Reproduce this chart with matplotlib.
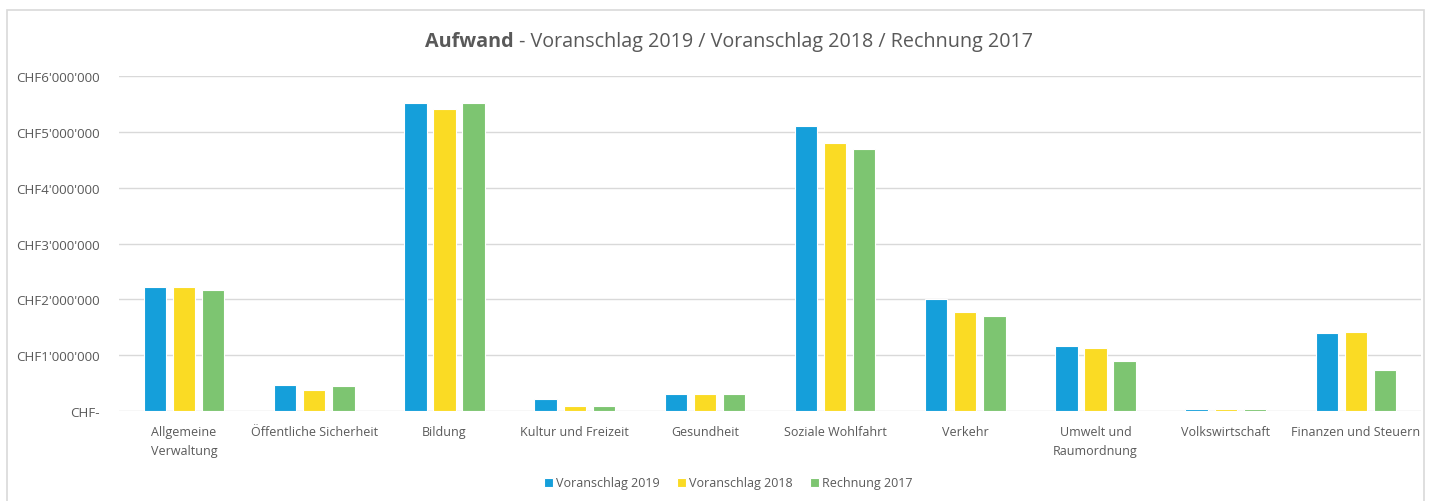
#!/usr/bin/env python3
import matplotlib
matplotlib.use("Agg")
import matplotlib.pyplot as plt
import matplotlib.ticker as mticker
from matplotlib.patches import Rectangle
import numpy as np

plt.rcParams['font.family'] = ['Open Sans', 'DejaVu Sans']

# Aufwand per Bereich, in Mio. CHF
categories = ["Allgemeine\nVerwaltung", "Öffentliche Sicherheit", "Bildung",
              "Kultur und Freizeit", "Gesundheit", "Soziale Wohlfahrt", "Verkehr",
              "Umwelt und\nRaumordnung", "Volkswirtschaft", "Finanzen und Steuern"]
va2019 = [2.22, 0.47, 5.52, 0.21, 0.30, 5.10, 2.00, 1.17, 0.04, 1.40]
va2018 = [2.22, 0.38, 5.41, 0.095, 0.30, 4.80, 1.77, 1.13, 0.035, 1.42]
re2017 = [2.17, 0.44, 5.52, 0.095, 0.30, 4.69, 1.71, 0.90, 0.035, 0.74]
series = ["Voranschlag 2019", "Voranschlag 2018", "Rechnung 2017"]
colors = ["#159FDA", "#FADB24", "#7DC571"]
textcol = "#595959"

fig = plt.figure(figsize=(14.32, 5.02), dpi=100)
ax = fig.add_axes([119/1432, 1 - 412/502, (1421-119)/1432, (412-77)/502])

x = np.arange(len(categories))
w = 0.172
off = 0.223
for i, (vals, lab, c) in enumerate(zip([va2019, va2018, re2017], series, colors)):
    ax.bar(x + (i - 1) * off, np.array(vals) * 1e6, width=w, color=c, label=lab,
           edgecolor="white", linewidth=0.8, zorder=3)

ax.set_xlim(-0.5, len(categories) - 0.5)
ax.set_ylim(0, 6e6)
ax.set_yticks(np.arange(0, 6.01e6, 1e6))

def chf(v, pos):
    if v == 0:
        return "CHF-"
    return "CHF" + f"{int(round(v)):,}".replace(",", "'")

ax.yaxis.set_major_formatter(mticker.FuncFormatter(chf))
ax.set_xticks(x)
ax.set_xticklabels(categories, fontsize=9, color=textcol, linespacing=1.6)
ax.tick_params(axis="y", labelsize=9.6, labelcolor=textcol, length=0, pad=14)
ax.tick_params(axis="x", length=0, pad=10)
ax.grid(axis="y", color="#D9D9D9", linewidth=1, zorder=0)
for s in ax.spines.values():
    s.set_visible(False)

t = fig.text(425/1432, 1 - 42/502, "Aufwand", fontsize=14.2, fontweight="bold",
             color=textcol, ha="left", va="center")
fig.canvas.draw()
bb = t.get_window_extent()
fig.text(bb.x1/1432, 1 - 42/502, " - Voranschlag 2019 / Voranschlag 2018 / Rechnung 2017",
         fontsize=14.2, color=textcol, ha="left", va="center")

leg = fig.legend(loc="center", bbox_to_anchor=(728/1432, 1 - 484/502), ncol=3, frameon=False,
                 fontsize=9, handlelength=0.7, handleheight=0.7, handletextpad=0.25,
                 columnspacing=1.4, labelcolor=textcol)

fig.patches.append(Rectangle((7/1432, -0.1), (1424-7)/1432, 1 - 11/502 + 0.1,
                             transform=fig.transFigure, fill=False,
                             edgecolor="#D9D9D9", linewidth=1.2))

fig.savefig("out.png", dpi=100)
